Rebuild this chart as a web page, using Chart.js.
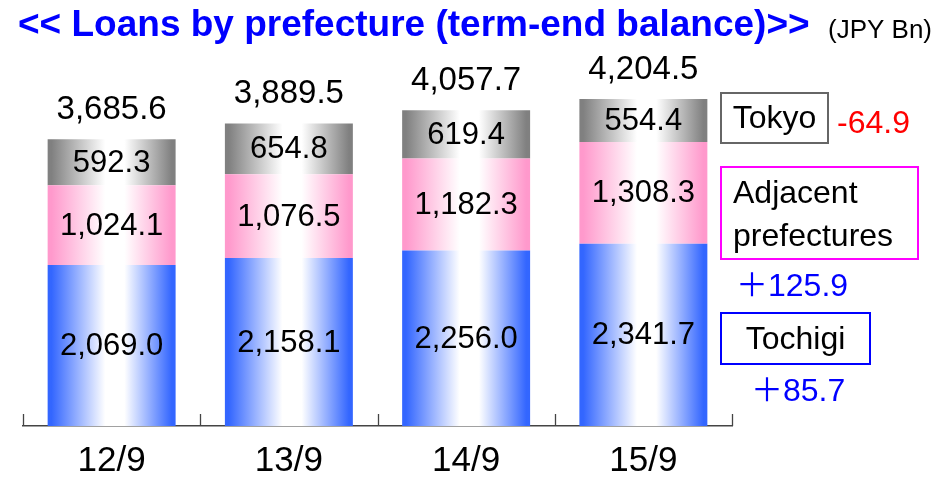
<!DOCTYPE html>
<html>
<head>
<meta charset="utf-8">
<script src="https://cdn.jsdelivr.net/npm/chart.js@4.4.1/dist/chart.umd.min.js"></script>
<style>
  html, body { margin: 0; padding: 0; background: #fff; }
  #wrap { width: 937px; height: 477px; }
</style>
</head>
<body>
<div id="wrap"><canvas id="c" width="937" height="477"></canvas></div>
<script>
// Term-end loan balance by prefecture (JPY Bn)
const periods = ['12/9', '13/9', '14/9', '15/9'];
const tochigi = [2069.0, 2158.1, 2256.0, 2341.7];
const adjacent = [1024.1, 1076.5, 1182.3, 1308.3];
const tokyo = [592.3, 654.8, 619.4, 554.4];
const totals = [3685.6, 3889.5, 4057.7, 4204.5];
const changes = { tokyo: '-64.9', adjacent: '＋125.9', tochigi: '＋85.7' };

const FONT = '"Liberation Sans", Arial, "Noto Sans CJK JP", sans-serif';
const BAR_PCT = 0.722;

// horizontal shading: saturated edges, white in the middle
function shade(rgb) {
  return (ctx) => {
    const chart = ctx.chart;
    const area = chart.chartArea;
    const xs = chart.scales.x;
    if (!area || !xs) return `rgb(${rgb})`;
    const cw = (xs.right - xs.left) / periods.length;
    const w = cw * BAR_PCT;
    const cx = xs.getPixelForValue(ctx.dataIndex);
    const g = chart.ctx.createLinearGradient(cx - w / 2, 0, cx + w / 2, 0);
    const c = `rgb(${rgb})`;
    g.addColorStop(0, c);
    g.addColorStop(0.03, c);
    g.addColorStop(0.45, '#ffffff');
    g.addColorStop(0.6, '#ffffff');
    g.addColorStop(0.97, c);
    g.addColorStop(1, c);
    return g;
  };
}

const fmt = (v) => v.toLocaleString('en-US', { minimumFractionDigits: 1, maximumFractionDigits: 1 });

const decor = {
  id: 'decor',
  afterDatasetsDraw(chart) {
    const ctx = chart.ctx;
    ctx.save();
    ctx.fillStyle = '#000';
    ctx.textAlign = 'center';
    ctx.textBaseline = 'middle';
    ctx.font = `31px ${FONT}`;
    // segment values
    chart.data.datasets.forEach((ds, di) => {
      const meta = chart.getDatasetMeta(di);
      meta.data.forEach((el, i) => {
        ctx.fillText(fmt(ds.data[i]), el.x, (el.y + el.base) / 2 + 1);
      });
    });
    // stack totals
    ctx.font = `33px ${FONT}`;
    const topMeta = chart.getDatasetMeta(chart.data.datasets.length - 1);
    topMeta.data.forEach((el, i) => {
      ctx.fillText(fmt(totals[i]), el.x, el.y - 29);
    });

    // upward tick marks at category boundaries
    const xs = chart.scales.x;
    const bottom = chart.chartArea.bottom;
    const cw = (xs.right - xs.left) / periods.length;
    ctx.strokeStyle = '#444';
    ctx.lineWidth = 1.3;
    for (let i = 0; i <= periods.length; i++) {
      const x = Math.round(xs.left + cw * i) + 0.5;
      ctx.beginPath();
      ctx.moveTo(x, bottom);
      ctx.lineTo(x, bottom - 12);
      ctx.stroke();
    }

    // heading
    ctx.textAlign = 'left';
    ctx.textBaseline = 'alphabetic';
    ctx.fillStyle = '#0000ff';
    ctx.font = `bold 37px ${FONT}`;
    ctx.fillText('<< Loans by prefecture (term-end balance)>>', 18, 36);
    ctx.fillStyle = '#000';
    ctx.font = `26px ${FONT}`;
    ctx.fillText('(JPY Bn)', 828, 38);

    // side legend with changes
    ctx.lineWidth = 2;
    ctx.strokeStyle = '#666';
    ctx.strokeRect(721, 93, 107, 50);
    ctx.strokeStyle = '#ff00ff';
    ctx.strokeRect(721, 167, 197, 92);
    ctx.strokeStyle = '#0000ff';
    ctx.strokeRect(721, 313, 149, 51);

    ctx.font = `32px ${FONT}`;
    ctx.textBaseline = 'middle';
    ctx.fillStyle = '#000';
    ctx.textAlign = 'center';
    ctx.fillText('Tokyo', 774.5, 119);
    ctx.fillText('Tochigi', 795.5, 340);
    ctx.textAlign = 'left';
    ctx.fillText('Adjacent', 733, 194);
    ctx.fillText('prefectures', 733, 237);

    ctx.fillStyle = '#ff0000';
    ctx.fillText(changes.tokyo, 837, 124);
    ctx.fillStyle = '#0000ff';
    ctx.fillText(changes.adjacent, 736, 287);
    ctx.fillText(changes.tochigi, 751, 392);
    ctx.restore();
  }
};

new Chart(document.getElementById('c'), {
  type: 'bar',
  data: {
    labels: periods,
    datasets: [
      { label: 'Tochigi', data: tochigi, backgroundColor: shade('51,102,255') },
      { label: 'Adjacent prefectures', data: adjacent, backgroundColor: shade('255,153,204') },
      { label: 'Tokyo', data: tokyo, backgroundColor: shade('128,128,128') }
    ]
  },
  options: {
    responsive: false,
    devicePixelRatio: 1,
    animation: false,
    events: [],
    layout: { padding: { left: 23, right: 205, top: 37, bottom: 0 } },
    datasets: { bar: { barPercentage: BAR_PCT, categoryPercentage: 1, borderWidth: 0 } },
    plugins: { legend: { display: false }, tooltip: { enabled: false } },
    scales: {
      x: {
        stacked: true,
        offset: true,
        grid: { display: false },
        border: { display: true, color: '#444', width: 1.5 },
        ticks: { color: '#000', padding: 10, font: { family: FONT, size: 35, lineHeight: 1 } },
        afterFit(scale) { scale.height = 51; }
      },
      y: {
        stacked: true,
        display: false,
        min: 0,
        max: 5000
      }
    }
  },
  plugins: [decor]
});
</script>
</body>
</html>
